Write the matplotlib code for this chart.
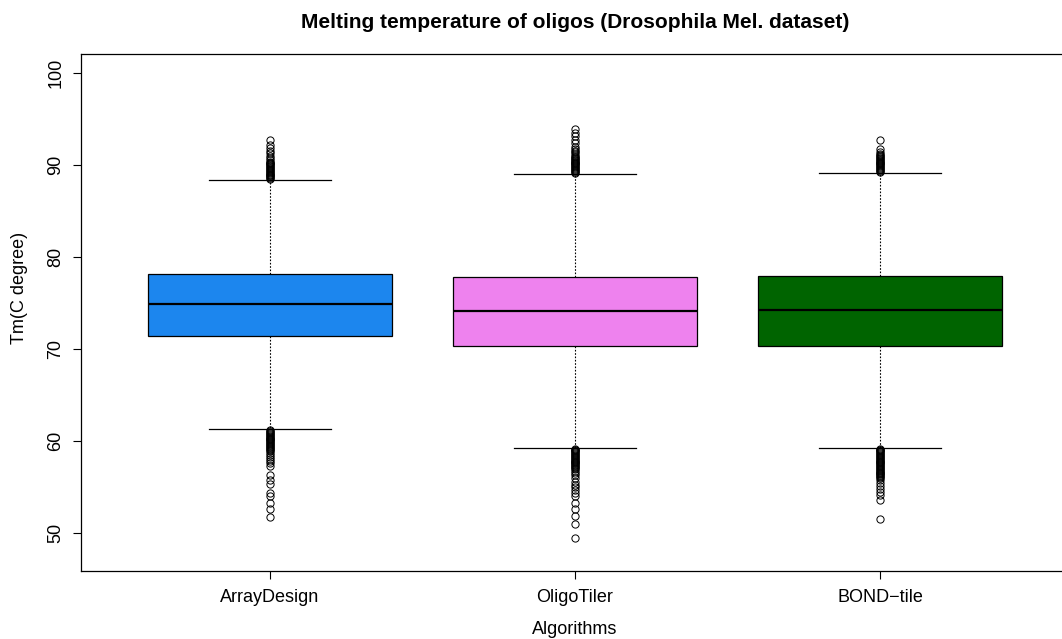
import matplotlib
matplotlib.use("Agg")
import matplotlib.pyplot as plt

plt.rcParams["font.family"] = ["Liberation Sans", "DejaVu Sans"]

# ---- data -----------------------------------------------------------------
algorithms = ["ArrayDesign", "OligoTiler", "BOND\u2212tile"]
box_colors = ["#1C86EE", "#EE82EE", "#006400"]

q1 = [71.4, 70.4, 70.4]
median = [74.9, 74.2, 74.3]
q3 = [78.2, 77.9, 78.0]
whisker_lo = [61.3, 59.25, 59.3]
whisker_hi = [88.4, 89.1, 89.2]

# outliers (the dense runs near the whisker ends look like a solid column)
array_hi = [88.5, 88.6, 88.7, 88.8, 88.9, 89.0, 89.1, 89.2, 89.3, 89.4, 89.5,
            89.6, 89.7, 89.8, 89.9, 90.0, 90.1, 90.2, 90.3, 90.4, 90.6, 90.8,
            91.0, 91.3, 91.6, 91.9, 92.2, 92.8]
array_lo = [61.2, 61.1, 61.0, 60.9, 60.8, 60.7, 60.6, 60.5, 60.4, 60.3, 60.2,
            60.1, 60.0, 59.9, 59.8, 59.7, 59.6, 59.5, 59.4, 59.3, 59.2, 59.1,
            58.9, 58.7, 58.5, 58.3, 58.1, 57.9, 57.6, 57.3, 56.3, 55.8, 55.4,
            54.4, 54.1, 53.3, 52.6, 51.8]
tiler_hi = [89.2, 89.3, 89.4, 89.5, 89.6, 89.7, 89.8, 89.9, 90.0, 90.1, 90.2,
            90.3, 90.4, 90.5, 90.6, 90.7, 90.8, 90.9, 91.0, 91.2, 91.4, 91.6,
            91.8, 92.0, 92.4, 92.8, 93.15, 93.5, 93.9]
tiler_lo = [59.2, 59.1, 59.0, 58.9, 58.8, 58.7, 58.6, 58.5, 58.4, 58.3, 58.2,
            58.1, 58.0, 57.9, 57.8, 57.7, 57.6, 57.5, 57.4, 57.3, 57.2, 57.1,
            57.0, 56.8, 56.55, 56.3, 56.0, 55.6, 55.3, 55.0, 54.75, 54.4, 54.0,
            53.3, 52.6, 51.85, 51.05, 49.5]
bond_hi = [89.3, 89.4, 89.5, 89.6, 89.7, 89.8, 89.9, 90.0, 90.1, 90.2, 90.3,
           90.4, 90.5, 90.6, 90.7, 90.8, 90.9, 91.0, 91.1, 91.2, 91.45, 91.8,
           92.8]
bond_lo = [59.2, 59.1, 59.0, 58.9, 58.8, 58.7, 58.6, 58.5, 58.4, 58.3, 58.2,
           58.1, 58.0, 57.9, 57.8, 57.7, 57.6, 57.5, 57.4, 57.3, 57.2, 57.1,
           57.0, 56.9, 56.8, 56.7, 56.6, 56.5, 56.4, 56.3, 56.2, 56.1, 56.0,
           55.8, 55.5, 55.1, 54.8, 54.5, 54.2, 53.65, 51.5]
outliers = [array_hi + array_lo, tiler_hi + tiler_lo, bond_hi + bond_lo]

yticks = [50, 60, 70, 80, 90, 100]

# ---- figure ---------------------------------------------------------------
W, H = 1062, 639
fig = plt.figure(figsize=(W / 100, H / 100), dpi=100)
# plot region runs a little past the right edge of the image, as in the original
ax = fig.add_axes([81 / W, 1 - 571 / H, (1069 - 81) / W, (571 - 54) / H])

stats = [
    {"med": median[i], "q1": q1[i], "q3": q3[i], "whislo": whisker_lo[i],
     "whishi": whisker_hi[i], "fliers": outliers[i], "label": algorithms[i]}
    for i in range(3)
]
bp = ax.bxp(stats, positions=[1, 2, 3], widths=0.8, patch_artist=True,
            boxprops=dict(edgecolor="black", linewidth=0.9),
            medianprops=dict(color="black", linewidth=1.6),
            whiskerprops=dict(color="black", linewidth=0.8, linestyle=(0, (1.5, 1.5))),
            capprops=dict(color="black", linewidth=0.9),
            flierprops=dict(marker="o", markerfacecolor="none", markeredgecolor="black",
                            markersize=5.2, markeredgewidth=0.7, linestyle="none"))
for patch, c in zip(bp["boxes"], box_colors):
    patch.set_facecolor(c)

ax.set_xlim(0.38, 3.62)
ax.set_ylim(45.9, 102.1)
ax.set_yticks(yticks)
ax.set_yticklabels([str(v) for v in yticks], rotation=90, va="center")
ax.set_xticks([1, 2, 3])
ax.set_xticklabels(algorithms)
ax.tick_params(axis="both", length=5.8, width=0.8, labelsize=13, color="black")
ax.tick_params(axis="x", pad=7)
ax.tick_params(axis="y", pad=6)
ax.spines["right"].set_visible(False)
for s in ["left", "bottom", "top"]:
    ax.spines[s].set_linewidth(0.9)

fig.text(20 / W, 1 - 288 / H, "Tm(C degree)", rotation=90, ha="center", va="center", fontsize=13)
fig.text(575 / W, 1 - 630 / H, "Algorithms", ha="center", va="center", fontsize=13)
fig.text(575 / W, 1 - 23 / H, "Melting temperature of oligos (Drosophila Mel. dataset)",
         ha="center", va="center", fontsize=15, fontweight="bold")

fig.savefig("out.png", dpi=100)
